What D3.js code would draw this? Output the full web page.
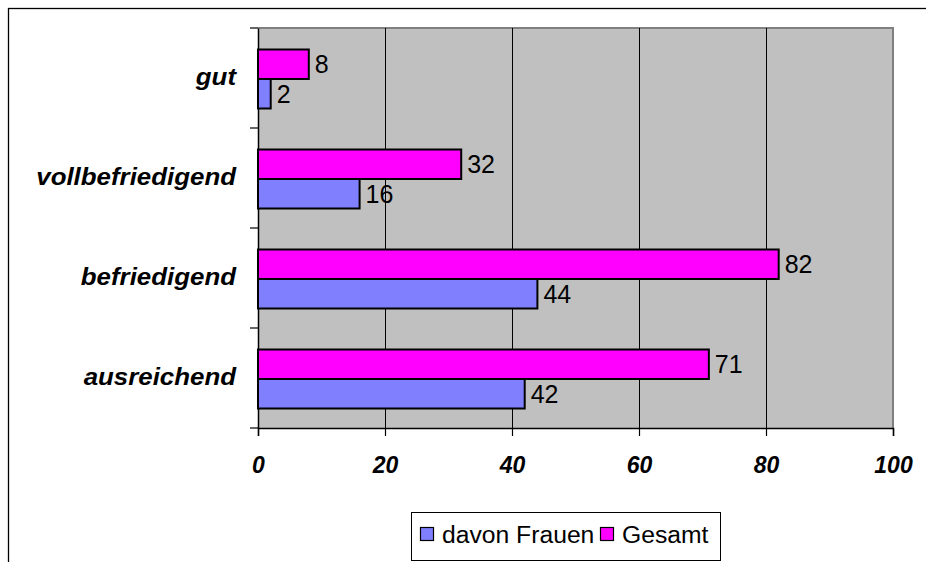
<!DOCTYPE html>
<html><head><meta charset="utf-8">
<script src="https://cdn.jsdelivr.net/npm/d3@7"></script>
<style>
html,body{margin:0;padding:0;background:#fff;}
svg{display:block;font-family:"Liberation Sans",Arial,sans-serif;}
</style></head>
<body><svg id="c" width="926" height="562"></svg>
<script>
const categories = ["gut","vollbefriedigend","befriedigend","ausreichend"];
const seriesNames = ["Gesamt","davon Frauen"];
const gesamt = [8,32,82,71];
const frauen = [2,16,44,42];
const xTicks = [0,20,40,60,80,100];
const legendNames = ["davon Frauen","Gesamt"];
const colors = {"Gesamt":"#FF00FF","davon Frauen":"#8080FF"};

const FF = "'Liberation Sans',Arial,sans-serif";
const svg = d3.select("#c");
const L=258, R=893, T=28, B=428;
const x = d3.scaleLinear().domain([0,100]).range([L,R]);
const y = d3.scaleBand().domain(categories).range([T,B]).padding(0);
const yi = d3.scaleBand().domain(seriesNames).range([21.5,80.5]).padding(0);

// outer frame
svg.append("rect").attr("x",8.5).attr("y",8.5).attr("width",1000).attr("height",1000)
  .attr("fill","none").attr("stroke","#000").attr("stroke-width",1.3);

// plot background
svg.append("rect").attr("x",L).attr("y",T).attr("width",R-L).attr("height",B-T).attr("fill","#C0C0C0");
svg.append("path").attr("d",`M${L},${T}H${R}V${B}`).attr("fill","none").attr("stroke","#808080").attr("stroke-width",2);

// gridlines
svg.append("g").selectAll("line").data(xTicks.filter(d=>d>0&&d<100)).join("line")
  .attr("x1",d=>Math.round(x(d))+0.5).attr("x2",d=>Math.round(x(d))+0.5).attr("y1",T).attr("y2",B)
  .attr("stroke","#000").attr("stroke-width",1);

// x axis
const xa = svg.append("g").attr("transform",`translate(0,${B})`)
  .call(d3.axisBottom(x).tickValues(xTicks).tickSize(8).tickFormat(d3.format("d")));
xa.select(".domain").attr("stroke","#000").attr("stroke-width",1.5);
xa.selectAll(".tick line").attr("stroke","#000").attr("stroke-width",1.2);
xa.selectAll(".tick text").attr("font-size",23).attr("font-weight","bold").attr("font-style","italic")
  .attr("font-family",FF).attr("fill","#000").attr("dy",0).attr("y",45);

// y axis
const ya = svg.append("g").attr("transform",`translate(${L},0)`)
  .call(d3.axisLeft(y).tickSize(0).tickFormat(""));
ya.select(".domain").attr("stroke","#000").attr("stroke-width",1.5);
// category labels (horizontally widened like the original)
svg.append("g").selectAll("text").data(categories).join("text")
  .attr("transform",d=>`translate(236,${y(d)+y.bandwidth()/2}) scale(1.125,1)`)
  .attr("text-anchor","end").attr("dy","0.3em")
  .attr("font-size",23).attr("font-weight","bold").attr("font-style","italic")
  .attr("font-family",FF).attr("fill","#000").text(d=>d);
// category boundary ticks
const bounds = categories.map(c=>y(c)).concat([B]);
svg.append("g").selectAll("line").data(bounds).join("line")
  .attr("x1",L-8).attr("x2",L).attr("y1",d=>d).attr("y2",d=>d).attr("stroke","#000").attr("stroke-width",1.2);

// bars
const rows = [];
categories.forEach((c,i)=>{
  rows.push({cat:c, s:"Gesamt", v:gesamt[i]});
  rows.push({cat:c, s:"davon Frauen", v:frauen[i]});
});
const g = svg.append("g");
g.selectAll("rect").data(rows).join("rect")
  .attr("x",x(0)).attr("y",d=>y(d.cat)+yi(d.s)).attr("width",d=>x(d.v)-x(0)).attr("height",yi.bandwidth())
  .attr("fill",d=>colors[d.s]).attr("stroke","#000").attr("stroke-width",2);
g.selectAll("text").data(rows).join("text")
  .attr("x",d=>x(d.v)+6).attr("y",d=>y(d.cat)+yi(d.s)+yi.bandwidth()/2).attr("dy","0.36em")
  .attr("font-size",25).attr("fill","#000").text(d=>d.v);

// legend
const lg = svg.append("g");
lg.append("rect").attr("x",411.5).attr("y",512.5).attr("width",309).attr("height",48)
  .attr("fill","#fff").attr("stroke","#000").attr("stroke-width",1);
const lx = [420,600];
legendNames.forEach((n,i)=>{
  lg.append("rect").attr("x",lx[i]+0.5).attr("y",527.5).attr("width",13).attr("height",13)
    .attr("fill",colors[n]).attr("stroke","#000").attr("stroke-width",1.2);
  lg.append("text").attr("x",lx[i]+22).attr("y",543).attr("font-size",24.7).attr("fill","#000").text(n);
});
</script></body></html>
